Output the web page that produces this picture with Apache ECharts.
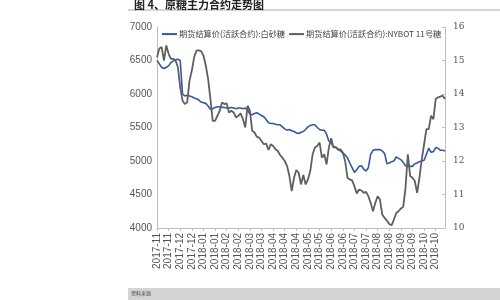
<!DOCTYPE html>
<html><head><meta charset="utf-8">
<script src="https://cdn.jsdelivr.net/npm/echarts@6/dist/echarts.min.js"></script>
<style>html,body{margin:0;padding:0;background:#fff}#c{width:500px;height:300px}</style>
</head><body><div id="c"></div>
<script>
const titleText = '图 4、原糖主力合约走势图';
const seriesNames = ['期货结算价(活跃合约):白砂糖', '期货结算价(活跃合约):NYBOT 11号糖'];
const tickLabels = ['2017-11','2017-11','2017-12','2017-12','2018-01','2018-01','2018-02','2018-02','2018-03','2018-03','2018-04','2018-04','2018-04','2018-05','2018-05','2018-06','2018-06','2018-07','2018-07','2018-08','2018-08','2018-09','2018-09','2018-10','2018-10'];
const pointsPerTick = 5;
// 白砂糖 (left axis)
const sugarCN = [6500,6450,6400,6380,6400,6420,6470,6490,6510,6520,6500,6000,5970,5980,5970,5960,5940,5930,5910,5880,
5870,5860,5820,5770,5780,5800,5810,5810,5800,5800,5790,5790,5800,5790,5780,5790,5790,5780,5790,5760,
5700,5690,5710,5720,5700,5680,5660,5620,5570,5560,5560,5550,5540,5540,5510,5480,5460,5470,5450,5440,
5420,5410,5430,5440,5470,5510,5530,5540,5540,5500,5470,5460,5460,5400,5300,5270,5210,5200,5180,5150,
5120,5090,5050,4970,4900,4830,4870,4920,4930,4880,4850,4900,5100,5160,5170,5170,5170,5150,5110,4960,
4970,4990,5000,5060,5040,5020,4980,4930,4920,4920,4920,4960,4970,4990,5000,5010,5100,5190,5130,5140,
5200,5190,5160,5160,5150];
// NYBOT 11号糖 (right axis)
const sugarNY = [15.1,15.36,15.4,15.0,15.45,15.2,15.05,15.05,15.0,14.8,14.2,13.8,13.7,13.75,14.4,14.7,15.1,15.3,15.3,15.28,
15.15,14.85,14.45,13.85,13.2,13.2,13.35,13.5,13.75,13.7,13.72,13.45,13.5,13.45,13.3,13.35,13.42,13.25,13.0,13.65,
13.5,12.9,12.85,12.72,12.7,12.6,12.5,12.52,12.33,12.5,12.45,12.35,12.3,12.18,12.1,12.0,11.85,11.55,11.1,11.5,
11.73,11.65,11.3,11.58,11.3,11.45,11.7,12.2,12.4,12.45,12.55,12.1,12.2,11.9,12.4,12.68,12.4,12.42,12.33,12.35,
12.25,12.0,11.5,11.45,11.42,11.25,11.03,11.15,11.12,11.05,11.08,10.95,10.75,10.5,10.75,10.95,10.85,10.4,10.3,10.22,
10.12,10.08,10.25,10.45,10.5,10.58,10.63,11.2,12.2,11.55,11.5,11.4,11.05,11.5,12.05,12.5,12.95,12.95,13.35,13.25,
13.85,13.9,13.92,13.95,13.85];
const sourceText = '资料来源';

const categories = sugarCN.map((_, i) => tickLabels[Math.min(tickLabels.length - 1, Math.floor(i / pointsPerTick))]);

const chart = echarts.init(document.getElementById('c'), null, {renderer: 'canvas'});
chart.setOption({
  animation: false,
  backgroundColor: '#fff',
  title: {
    text: titleText, left: 129, top: -6,
    textStyle: {fontFamily: 'Noto Sans CJK SC', fontSize: 11, fontWeight: 'bold', color: '#222'}
  },
  legend: {
    left: 157, top: 25, itemWidth: 15, itemHeight: 2, itemGap: 4, icon: 'rect',
    textStyle: {fontFamily: 'Noto Sans CJK SC', fontSize: 8.2, color: '#444', padding: [0,0,0,-3]},
    data: seriesNames
  },
  grid: {left: 157, right: 55, top: 27, bottom: 72},
  xAxis: {
    type: 'category', data: categories, boundaryGap: false,
    axisLine: {lineStyle: {color: '#bfbfbf'}},
    axisTick: {interval: pointsPerTick - 1, length: 3, lineStyle: {color: '#bfbfbf'}},
    axisLabel: {interval: pointsPerTick - 1, rotate: 90, fontFamily: 'Liberation Sans', fontSize: 10, color: '#555', margin: 5}
  },
  yAxis: [
    {type: 'value', min: 4000, max: 7000, interval: 500, splitLine: {show: false},
     axisLine: {show: true, lineStyle: {color: '#bfbfbf'}}, axisTick: {show: false},
     axisLabel: {fontFamily: 'Liberation Sans', fontSize: 10, color: '#555', margin: 5, formatter: v => String(v)}},
    {type: 'value', min: 10, max: 16, interval: 1, splitLine: {show: false}, position: 'right',
     axisLine: {show: true, lineStyle: {color: '#bfbfbf'}}, axisTick: {show: true, inside: true, length: 3, lineStyle: {color: '#bfbfbf'}},
     axisLabel: {fontFamily: 'DejaVu Serif', fontSize: 9, color: '#555', margin: 8}}
  ],
  series: [
    {name: seriesNames[0], type: 'line', yAxisIndex: 0, data: sugarCN, showSymbol: false,
     lineStyle: {color: '#2f5b9c', width: 1.6}, itemStyle: {color: '#2f5b9c'}},
    {name: seriesNames[1], type: 'line', yAxisIndex: 1, data: sugarNY, showSymbol: false,
     lineStyle: {color: '#5f5f5f', width: 1.8}, itemStyle: {color: '#5f5f5f'}}
  ],
  graphic: [
    {type: 'rect', shape: {x: 128, y: 9, width: 372, height: 2}, style: {fill: '#d6d6d6'}},
    {type: 'rect', shape: {x: 128, y: 288, width: 372, height: 12}, style: {fill: '#d4d4d4'}},
    {type: 'text', left: 131, top: 291, style: {text: sourceText, fontSize: 5, fill: '#444', fontFamily: 'Noto Sans CJK SC'}}
  ]
});
</script></body></html>
